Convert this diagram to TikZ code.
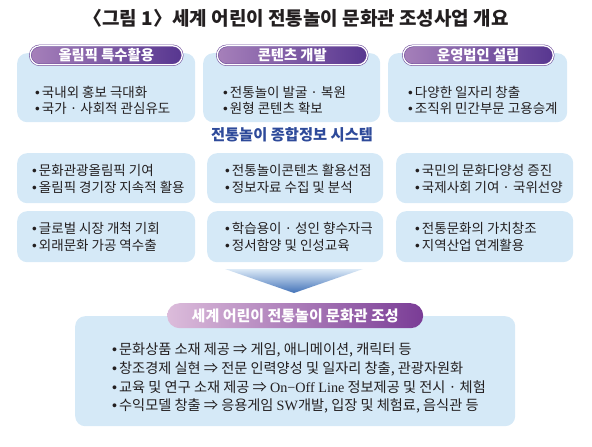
\documentclass[tikz,border=0pt]{standalone}
\usepackage{fontspec}
\setmainfont{Noto Sans CJK KR}
\newfontfamily\latserif{Liberation Serif}
\newfontfamily\latsans{Liberation Sans}
\newcommand\bul{{\latsans •}\hspace{2pt}}
\definecolor{boxblue}{HTML}{D5E9F7}
\definecolor{pillL}{HTML}{A680BA}
\definecolor{pillR}{HTML}{573690}
\definecolor{pillB}{HTML}{6A4898}
\definecolor{bpillL}{HTML}{DCBCDB}
\definecolor{bpillR}{HTML}{7A3C96}
\definecolor{midblue}{HTML}{2E4A9A}
\definecolor{txt}{HTML}{231F20}
\definecolor{tritop}{HTML}{DCEAF7}
\definecolor{tribot}{HTML}{4272B8}
\begin{document}
\begin{tikzpicture}[x=1pt,y=-1pt,
  infobox/.style={fill=boxblue, rounded corners=10pt, inner sep=0pt, anchor=north west},
  toppill/.style={draw=pillB, double=white, double distance=1.3pt, line width=0.55pt,
     left color=pillL, right color=pillR, rounded corners=9.5pt, inner sep=0pt,
     minimum height=19pt, anchor=north west},
  botpill/.style={left color=bpillL, right color=bpillR, rounded corners=12.5pt,
     inner sep=0pt, minimum height=25pt, anchor=north west},
  pilltext/.style={text=white, font=\bfseries\fontsize{14.3}{16}\selectfont},
  item/.style={text=txt, font=\fontsize{13.5}{15}\selectfont, anchor=west, inner sep=0pt},
  bitem/.style={item, font=\fontsize{14.2}{16}\selectfont},
]
\useasboundingbox (0,0) rectangle (592,447);

% title
\node[text=txt, font=\bfseries\fontsize{19}{22}\selectfont] (title) at (296,18)
  {〈그림 1〉세계 어린이 전통놀이 문화관 조성사업 개요};

% row 1 boxes
\node[infobox, minimum width=178pt, minimum height=69pt] (b1) at (17,53) {};
\node[infobox, minimum width=177pt, minimum height=69pt] (b2) at (203,53) {};
\node[infobox, minimum width=179pt, minimum height=69pt] (b3) at (388,53) {};

\node[toppill, minimum width=152pt] (p1) at (30,45.5) {};
\node[toppill, minimum width=150pt] (p2) at (217,45.5) {};
\node[toppill, minimum width=150pt] (p3) at (403,45.5) {};
\node[pilltext] (p1t) at (p1.center) {올림픽 특수활용};
\node[pilltext] (p2t) at (p2.center) {콘텐츠 개발};
\node[pilltext] (p3t) at (p3.center) {운영법인 설립};

\node[item] (t11) at (35,92) {\bul 국내외 홍보 극대화};
\node[item] (t12) at (35,108.5) {\bul 국가 · 사회적 관심유도};
\node[item] (t21) at (223,92) {\bul 전통놀이 발굴 · 복원};
\node[item] (t22) at (223,108.5) {\bul 원형 콘텐츠 확보};
\node[item] (t31) at (408,92) {\bul 다양한 일자리 창출};
\node[item] (t32) at (408,108.5) {\bul 조직위 민간부문 고용승계};

% middle title
\node[text=midblue, font=\bfseries\fontsize{15.3}{18}\selectfont] (mid) at (292,135)
  {전통놀이 종합정보 시스템};

% row 2 boxes
\node[infobox, minimum width=178pt, minimum height=50pt] (c1) at (17,153) {};
\node[infobox, minimum width=176pt, minimum height=50pt] (c2) at (207,153) {};
\node[infobox, minimum width=177pt, minimum height=50pt] (c3) at (396,153) {};
\node[item] (u11) at (32,170) {\bul 문화관광올림픽 기여};
\node[item] (u12) at (32,187) {\bul 올림픽 경기장 지속적 활용};
\node[item] (u21) at (225,170) {\bul 전통놀이콘텐츠 활용선점};
\node[item] (u22) at (225,187) {\bul 정보자료 수집 및 분석};
\node[item] (u31) at (415,170) {\bul 국민의 문화다양성 증진};
\node[item] (u32) at (415,187) {\bul 국제사회 기여 · 국위선양};

% row 3 boxes
\node[infobox, minimum width=178pt, minimum height=51pt] (d1) at (17,211) {};
\node[infobox, minimum width=176pt, minimum height=51pt] (d2) at (207,211) {};
\node[infobox, minimum width=177pt, minimum height=51pt] (d3) at (396,211) {};
\node[item] (v11) at (32,228) {\bul 글로벌 시장 개척 기회};
\node[item] (v12) at (32,245) {\bul 외래문화 가공 역수출};
\node[item] (v21) at (225,228) {\bul 학습용이 · 성인 향수자극};
\node[item] (v22) at (225,245) {\bul 정서함양 및 인성교육};
\node[item] (v31) at (415,228) {\bul 전통문화의 가치창조};
\node[item] (v32) at (415,245) {\bul 지역산업 연계활용};

% funnel arrow
\shade[top color=tritop, bottom color=tribot] (225,269) -- (363,269) -- (294,293) -- cycle;

% bottom box
\node[infobox, minimum width=440pt, minimum height=110pt] (e) at (75,316) {};
\node[botpill, minimum width=256pt] (ep) at (167,303) {};
\node[pilltext, font=\bfseries\fontsize{15}{17}\selectfont] (ept) at (ep.center)
  {세계 어린이 전통놀이 문화관 조성};
\node[bitem] (w1) at (112,350) {\bul 문화상품 소재 제공 ⇒ 게임, 애니메이션, 캐릭터 등};
\node[bitem] (w2) at (112,369) {\bul 창조경제 실현 ⇒ 전문 인력양성 및 일자리 창출, 관광자원화};
\node[bitem] (w3) at (112,387.5) {\bul 교육 및 연구 소재 제공 ⇒ {\latserif On−Off Line} 정보제공 및 전시 · 체험};
\node[bitem] (w4) at (112,406) {\bul 수익모델 창출 ⇒ 응용게임 {\latserif SW}개발, 입장 및 체험료, 음식관 등};
\end{tikzpicture}
\end{document}
